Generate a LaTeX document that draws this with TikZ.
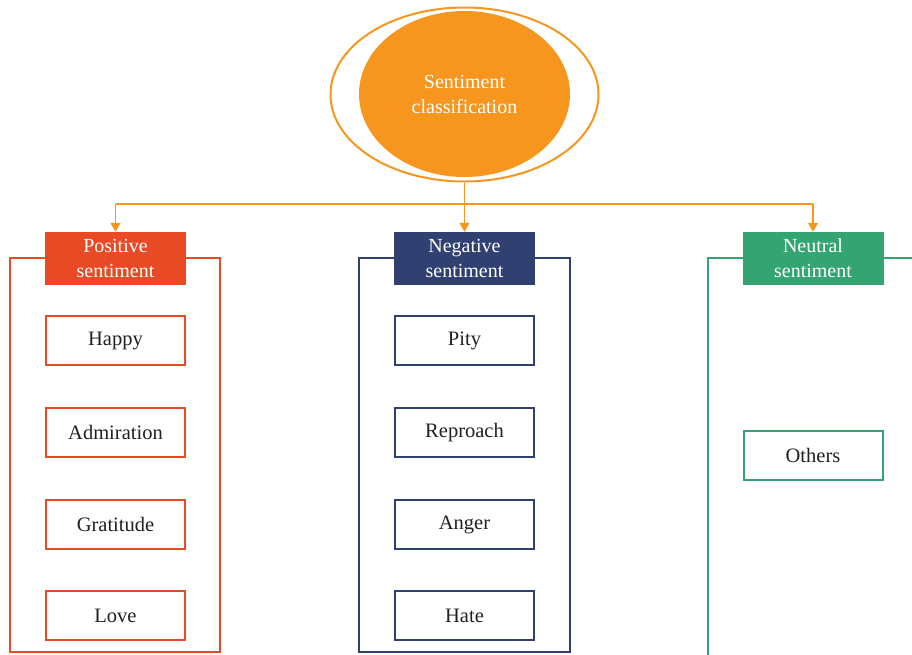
\documentclass[tikz,border=0pt]{standalone}
\usepackage{fontspec}
\setmainfont{Liberation Serif}
\usetikzlibrary{shapes.geometric,arrows.meta}
\definecolor{corange}{HTML}{F6961F}
\definecolor{cred}{HTML}{E84A25}
\definecolor{cnavy}{HTML}{2F4071}
\definecolor{cgreen}{HTML}{33A472}
\definecolor{ctext}{HTML}{231F20}
\tikzset{
  header/.style={fill=#1, draw=none, minimum width=141pt, minimum height=53pt, inner sep=0pt,
    text=white, align=center, font=\fontsize{20}{25}\selectfont},
  item/.style={draw=#1, line width=2pt, fill=white, minimum width=139pt, minimum height=49pt, inner sep=0pt,
    text=ctext, font=\fontsize{20.5}{24}\selectfont},
  frame/.style={draw=#1, line width=2pt, inner sep=0pt},
  conn/.style={draw=corange, line width=1.4pt},
  arr/.style={conn, -{Triangle[width=10pt,length=9pt]}},
}
\begin{document}
\begin{tikzpicture}[x=1pt,y=-1pt]
\useasboundingbox (0,0) rectangle (912,654);
% frames
\node[frame=cred, minimum width=210pt, minimum height=394pt] (fpos) at (115,455) {};
\node[frame=cnavy, minimum width=211pt, minimum height=394pt] (fneg) at (464.5,455) {};
\draw[cgreen, line width=2pt] (930,258) -- (708,258) -- (708,660);
% root
\node[draw=corange, line width=2pt, ellipse, minimum width=268pt, minimum height=174pt, inner sep=0pt] (outer) at (464.5,94.5) {};
\node[fill=corange, ellipse, minimum width=211pt, minimum height=166pt, inner sep=0pt, text=white, align=center,
  font=\fontsize{20}{25}\selectfont] (root) at (464.5,94) {Sentiment\\classification};
% headers
\node[header=cred] (pos) at (115.5,258.5) {Positive\\sentiment};
\node[header=cnavy] (neg) at (464.5,258.5) {Negative\\sentiment};
\node[header=cgreen] (neu) at (813,258.5) {Neutral\\sentiment};
% items
\node[item=cred] (happy) at (115.5,340.5) {Happy};
\node[item=cred] (adm) at (115.5,432.5) {Admiration};
\node[item=cred] (grat) at (115.5,524.5) {Gratitude};
\node[item=cred] (love) at (115.5,615.5) {Love};
\node[item=cnavy] (pity) at (464.5,340.5) {Pity};
\node[item=cnavy] (repr) at (464.5,432.5) {Reproach};
\node[item=cnavy] (anger) at (464.5,524.5) {Anger};
\node[item=cnavy] (hate) at (464.5,615.5) {Hate};
\node[item=cgreen] (others) at (813,455.5) {Others};
% connectors
\coordinate (bus) at (464.5,204);
\draw[conn] (bus -| pos.north) -- (bus -| neu.north);
\draw[arr] (bus -| pos.north) -- (pos.north);
\draw[arr] (bus -| neu.north) -- (neu.north);
\draw[arr] (outer.south) -- (neg.north);
\end{tikzpicture}
\end{document}
